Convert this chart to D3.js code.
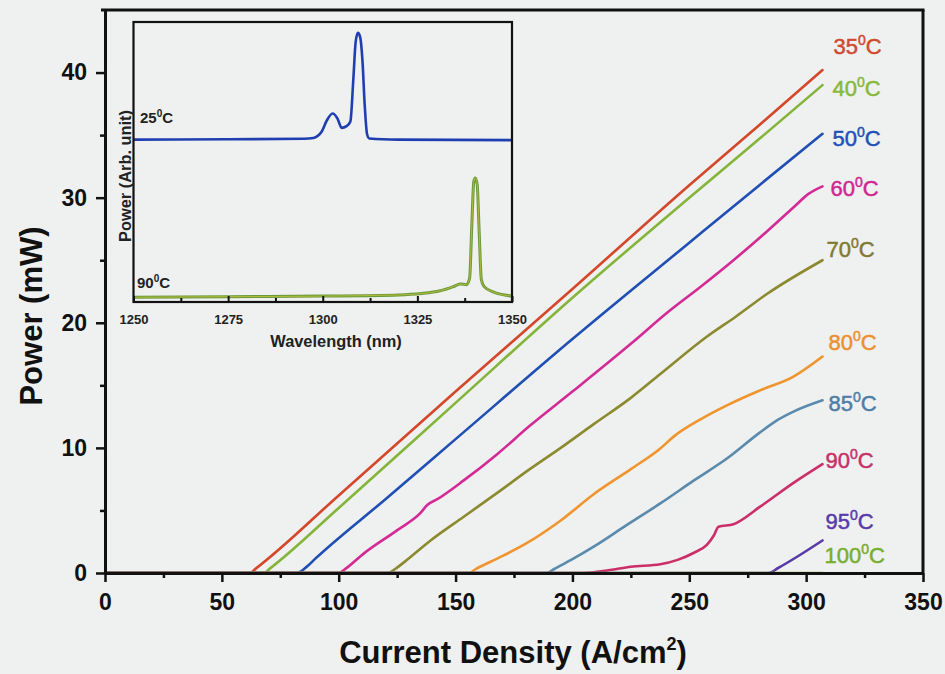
<!DOCTYPE html>
<html>
<head>
<meta charset="utf-8">
<script src="https://cdn.jsdelivr.net/npm/d3@7"></script>
<style>
  html, body { margin: 0; padding: 0; background: #eff0f0; }
  svg { display: block; }
  text { font-family: "Liberation Sans", Arial, Helvetica, sans-serif; }
</style>
</head>
<body>
<svg id="chart" width="945" height="674"></svg>
<script>
// L-I curves: output power (mW) vs current density (A/cm^2), one per temperature
const temps = ["35", "40", "50", "60", "70", "80", "85", "90", "95", "100"];
const colors = ["#d4472a", "#84b53a", "#1f4fb4", "#d42a96", "#8c8a2e",
                "#f0952e", "#5a8aac", "#cc2e68", "#5a3aa6", "#7cae2e"];

const li35 = [[0,0],[62,0],[64.5,0.35],[100,6.2],[150,14.5],[200,22.7],[250,31.0],[280,35.8],[307,40.2]];
const li40 = [[0,0],[68,0],[70.5,0.35],[100,5.2],[150,13.6],[200,22.0],[250,30.0],[280,34.7],[307,39.0]];
const li50 = [[0,0],[82,0],[86,0.45],[90,1.15],[120,5.9],[150,10.7],[200,18.7],[250,26.4],[280,31.0],[307,35.1]];
const li60 = [[0,0],[100,0],[103,0.35],[110.8,1.57],[125.1,3.43],[135,4.8],[138,5.45],[142.2,5.9],[153.5,7.4],
              [167.8,9.5],[182,11.8],[200,14.5],[225.5,18.4],[240.5,20.8],[255,22.9],[268.9,25.0],[283.2,27.3],
              [295,29.3],[301,30.3],[307,30.9]];
const li70 = [[0,0],[121,0],[124,0.3],[127.9,0.85],[139.3,2.6],[153.5,4.5],[167.8,6.4],[181,8.2],[195,10.0],
              [209.1,11.9],[225,14.0],[237.6,15.9],[257.6,18.9],[270,20.5],[283.2,22.3],[307,25.0]];
const li80 = [[0,0],[156,0],[158.5,0.3],[165,0.9],[180.6,2.4],[195,4.2],[209.1,6.3],[225,8.3],[237.6,9.95],
              [243.3,10.9],[255,12.3],[266.1,13.4],[280.3,14.6],[294.6,15.7],[307,17.3]];
const li85 = [[0,0],[189,0],[192,0.3],[200,1.1],[209.1,2.1],[223,3.8],[237.6,5.56],[252,7.4],[266.1,9.15],
              [280,11.2],[287.5,12.2],[294.6,12.9],[307,13.8]];
const li90 = [[0,0],[205,0],[216,0.24],[225,0.5],[237.6,0.7],[245,1.05],[251.8,1.6],[257.5,2.25],[260.5,3.0],
              [262.5,3.7],[268.9,3.9],[280.3,5.3],[294.6,7.2],[307,8.7]];
const li95 = [[0,0],[284,0],[288,0.4],[297,1.4],[307,2.6]];
const li100 = [[0,0],[307,0]];
const liCurves = [li35, li40, li50, li60, li70, li80, li85, li90, li95, li100];

const xTicks = [0, 50, 100, 150, 200, 250, 300, 350];
const yTicks = [0, 10, 20, 30, 40];

// Inset: lasing spectra at two temperatures (arbitrary units)
const spectrum25 = [[1250,0.580],[1275,0.581],[1295,0.583],[1297.5,0.586],[1299.7,0.608],[1301.1,0.649],
  [1302.6,0.673],[1303.9,0.655],[1305.0,0.622],[1306.3,0.628],[1307.3,0.645],[1308.1,0.80],[1308.7,0.93],
  [1309.3,0.961],[1309.9,0.945],[1310.5,0.86],[1311.1,0.70],[1311.7,0.60],[1312.3,0.584],[1320,0.580],[1350,0.578]];
const spectrum90 = [[1250,0.017],[1275,0.019],[1300,0.021],[1320,0.025],[1326,0.030],[1331,0.040],
  [1334.5,0.055],[1336.3,0.064],[1338,0.062],[1338.8,0.085],[1339.4,0.28],[1339.9,0.43],[1340.3,0.443],
  [1340.8,0.42],[1341.3,0.26],[1341.9,0.08],[1342.6,0.056],[1345,0.036],[1350,0.021]];
const insetTicks = [1250, 1275, 1300, 1325, 1350];

// ---------------------------------------------------------------------------
const svg = d3.select("#chart");
svg.append("rect").attr("width", 945).attr("height", 674).attr("fill", "#eff0f0");

const plot = { left: 105, right: 923, top: 10, bottom: 573 };
const x = d3.scaleLinear().domain([0, 350]).range([plot.left, plot.right]);
const y = d3.scaleLinear().domain([0, 45]).range([plot.bottom, plot.top]);

const line = d3.line().x(d => x(d[0])).y(d => y(d[1])).curve(d3.curveMonotoneX);

// curves
const curves = svg.append("g").attr("fill", "none").attr("stroke-width", 2.6)
  .attr("stroke-linejoin", "round").attr("stroke-linecap", "round");
liCurves.forEach((c, i) => {
  curves.append("path").attr("d", line(c)).attr("stroke", colors[i]);
});

// temperature labels next to each curve end
const labelShift = [[11,-16],[10,11],[10,12],[8,10],[4,-3],[6,-7],[6,11],[3,4],[3,-11],[2,-10]];
const labelColors = ["#d04a30", "#88b83c", "#1f50b8", "#d02890", "#807a30",
                     "#ec9030", "#4e7ea8", "#c8306a", "#5a3aaa", "#78ae30"];
liCurves.forEach((c, i) => {
  const end = c[c.length - 1];
  const t = svg.append("text")
    .attr("x", x(end[0]) + labelShift[i][0])
    .attr("y", y(end[1]) + labelShift[i][1])
    .attr("fill", labelColors[i])
    .attr("stroke", labelColors[i]).attr("stroke-width", 0.5)
    .attr("font-size", 22);
  t.append("tspan").text(temps[i]);
  t.append("tspan").attr("font-size", 14).attr("dy", -9).text("0");
  t.append("tspan").attr("dy", 9).text("C");
});

// axes
const tickFont = g => g.selectAll("text")
  .attr("font-size", 23).attr("font-weight", "bold").attr("fill", "#111")
  .attr("font-family", "'Liberation Sans', Arial, sans-serif");

svg.append("g").attr("transform", `translate(0,${plot.bottom})`)
  .call(d3.axisBottom(x).tickValues(xTicks).tickSize(9).tickSizeOuter(0).tickPadding(12).tickFormat(d3.format("d")))
  .call(tickFont);
svg.append("g").attr("transform", `translate(0,${plot.bottom})`)
  .call(d3.axisBottom(x).tickValues(d3.range(25, 350, 50)).tickSize(5).tickSizeOuter(0).tickFormat(""))
  .call(g => g.select(".domain").remove());

svg.append("g").attr("transform", `translate(${plot.left},0)`)
  .call(d3.axisLeft(y).tickValues(yTicks).tickSize(9).tickSizeOuter(0).tickPadding(9).tickFormat(d3.format("d")))
  .call(tickFont);
svg.append("g").attr("transform", `translate(${plot.left},0)`)
  .call(d3.axisLeft(y).tickValues([5, 15, 25, 35]).tickSize(5).tickSizeOuter(0).tickFormat(""))
  .call(g => g.select(".domain").remove());

svg.selectAll(".tick line").attr("stroke", "#111").attr("stroke-width", 2.5);
svg.selectAll(".domain").attr("stroke", "#111").attr("stroke-width", 3);

// frame top and right
svg.append("line").attr("x1", plot.left - 4).attr("x2", plot.right + 1.5)
  .attr("y1", plot.top).attr("y2", plot.top).attr("stroke", "#111").attr("stroke-width", 3);
svg.append("line").attr("x1", plot.right).attr("x2", plot.right)
  .attr("y1", plot.top).attr("y2", plot.bottom).attr("stroke", "#111").attr("stroke-width", 3);

// axis titles
svg.append("text").attr("transform", "translate(42,316) rotate(-90)")
  .attr("text-anchor", "middle").attr("font-size", 31).attr("font-weight", "bold").attr("fill", "#111")
  .text("Power (mW)");
const xt = svg.append("text").attr("x", 513).attr("y", 663)
  .attr("text-anchor", "middle").attr("font-size", 31).attr("font-weight", "bold").attr("fill", "#111");
xt.append("tspan").text("Current Density (A/cm");
xt.append("tspan").attr("font-size", 18).attr("dy", -13).text("2");
xt.append("tspan").attr("dy", 13).text(")");

// ---------------------------------------------------------------------------
// inset spectra
const inset = { left: 133.5, right: 512, top: 22, bottom: 302 };
const xi = d3.scaleLinear().domain([1250, 1350]).range([inset.left, inset.right]);
const yi = d3.scaleLinear().domain([0, 1]).range([inset.bottom, inset.top]);
const specLine = d3.line().x(d => xi(d[0])).y(d => yi(d[1])).curve(d3.curveMonotoneX);

const ig = svg.append("g");
ig.append("path").attr("d", specLine(spectrum25)).attr("fill", "none")
  .attr("stroke", "#1f3fb0").attr("stroke-width", 2.6).attr("stroke-linejoin", "round");
ig.append("path").attr("d", specLine(spectrum90)).attr("fill", "none")
  .attr("stroke", "#6a9a3a").attr("stroke-width", 3).attr("stroke-linejoin", "round");
ig.append("path").attr("d", specLine(spectrum90)).attr("fill", "none")
  .attr("stroke", "#b4bc3c").attr("stroke-width", 1).attr("stroke-linejoin", "round");

ig.append("g").attr("transform", `translate(0,${inset.bottom})`)
  .call(d3.axisBottom(xi).tickValues(insetTicks).tickSize(-6).tickSizeOuter(0).tickPadding(13).tickFormat(d3.format("d")))
  .call(g => g.selectAll("text").attr("font-size", 13).attr("font-weight", "bold").attr("fill", "#222")
    .attr("font-family", "'Liberation Sans', Arial, sans-serif"))
  .call(g => g.select(".domain").remove());
ig.append("g").attr("transform", `translate(0,${inset.bottom})`)
  .call(d3.axisBottom(xi).tickValues(d3.range(1262.5, 1350, 25)).tickSize(-4).tickSizeOuter(0).tickFormat(""))
  .call(g => g.select(".domain").remove());
ig.selectAll(".tick line").attr("stroke", "#111").attr("stroke-width", 2);

ig.append("rect").attr("x", inset.left).attr("y", inset.top)
  .attr("width", inset.right - inset.left).attr("height", inset.bottom - inset.top)
  .attr("fill", "none").attr("stroke", "#111").attr("stroke-width", 2.2);

ig.append("text").attr("x", 336).attr("y", 347).attr("text-anchor", "middle")
  .attr("font-size", 16.4).attr("font-weight", "bold").attr("fill", "#222").text("Wavelength (nm)");
ig.append("text").attr("transform", "translate(131,176) rotate(-90)").attr("text-anchor", "middle")
  .attr("font-size", 16.4).attr("font-weight", "bold").attr("fill", "#222").text("Power (Arb. unit)");

[["25", 140, 123], ["90", 137, 288]].forEach(([t, lx, ly]) => {
  const lt = ig.append("text").attr("x", lx).attr("y", ly).attr("font-size", 15)
    .attr("font-weight", "bold").attr("fill", "#222");
  lt.append("tspan").text(t);
  lt.append("tspan").attr("font-size", 10).attr("dy", -6).text("0");
  lt.append("tspan").attr("dy", 6).text("C");
});
</script>
</body>
</html>
